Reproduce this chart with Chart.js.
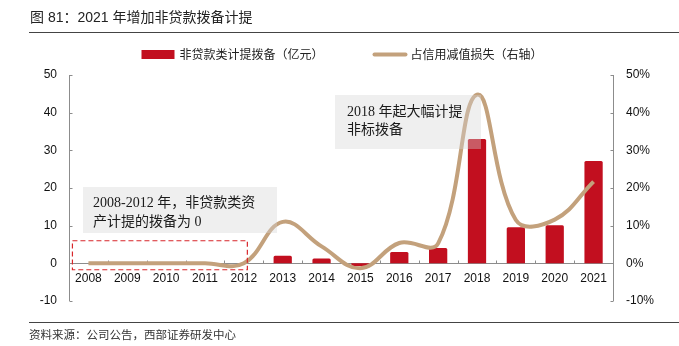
<!DOCTYPE html>
<html>
<head>
<meta charset="utf-8">
<script src="https://cdn.jsdelivr.net/npm/chart.js@4.4.1/dist/chart.umd.min.js"></script>
<style>
  body { margin: 0; background: #fff; }
  #wrap { position: relative; width: 679px; height: 346px; overflow: hidden; }
  #chart { position: absolute; left: 0; top: 0; }
  .title { position: absolute; left: 30px; top: 9px; font: 14px "Liberation Sans", "Noto Sans CJK SC", sans-serif; color: #222; white-space: nowrap; line-height: 16px; }
  .rule { position: absolute; left: 29px; width: 650px; height: 1px; background: #444; }
  .source { position: absolute; left: 29px; top: 327px; font: 11.5px "Noto Sans CJK SC", sans-serif; color: #333; white-space: nowrap; line-height: 14px; }
</style>
</head>
<body>
<div id="wrap">
  <canvas id="chart" width="679" height="346"></canvas>
  <div class="title">图 81：2021 年增加非贷款拨备计提</div>
  <div class="rule" style="top:32px"></div>
  <div class="rule" style="top:322px"></div>
  <div class="source">资料来源：公司公告，西部证券研发中心</div>
</div>
<script>
// years on the x axis
const years = ['2008', '2009', '2010', '2011', '2012', '2013', '2014', '2015', '2016', '2017', '2018', '2019', '2020', '2021'];
// non-loan provisions, 100m yuan (left axis)
const provisions = [0, 0, 0.2, 0.3, 0, 2.0, 1.3, -0.7, 3.0, 4.1, 33.0, 9.6, 10.1, 27.2];
// share of credit impairment losses, % (right axis)
const impairShare = [0, 0, 0, 0, 0, 11.0, 4.5, -1.3, 5.4, 5.3, 44.8, 11.5, 11.6, 21.7];
const leftTicks = [-10, 0, 10, 20, 30, 40, 50];
const rightTicks = [-10, 0, 10, 20, 30, 40, 50];

const barLabel = '非贷款类计提拨备（亿元）';
const lineLabel = '占信用减值损失（右轴）';

const RED = '#c20f1f';
const TAN = '#c3a17c';
const AXIS = '#8c8c8c';

// axis lines with short inward ticks
const axesPlugin = {
  id: 'axesPlugin',
  beforeDatasetsDraw(chart) {
    const ctx = chart.ctx;
    const { x, y, y1 } = chart.scales;
    const area = chart.chartArea;
    ctx.save();
    ctx.strokeStyle = AXIS;
    ctx.lineWidth = 1;
    ctx.beginPath();
    // left axis
    const lx = Math.round(area.left) + 0.5;
    ctx.moveTo(lx, y.getPixelForValue(50));
    ctx.lineTo(lx, y.getPixelForValue(-10));
    leftTicks.forEach(v => {
      const py = Math.round(y.getPixelForValue(v)) + 0.5;
      ctx.moveTo(lx, py);
      ctx.lineTo(lx + 3, py);
    });
    // right axis
    const rx = Math.round(area.right) + 0.5;
    ctx.moveTo(rx, y1.getPixelForValue(50));
    ctx.lineTo(rx, y1.getPixelForValue(-10));
    rightTicks.forEach(v => {
      const py = Math.round(y1.getPixelForValue(v)) + 0.5;
      ctx.moveTo(rx, py);
      ctx.lineTo(rx - 3, py);
    });
    // zero line with ticks between the years
    const zy = Math.round(y.getPixelForValue(0)) + 0.5;
    ctx.moveTo(area.left, zy);
    ctx.lineTo(area.right, zy);
    for (let i = 1; i < years.length; i++) {
      const px = Math.round((x.getPixelForValue(i - 1) + x.getPixelForValue(i)) / 2) + 0.5;
      ctx.moveTo(px, zy);
      ctx.lineTo(px, zy - 3);
    }
    ctx.stroke();
    ctx.restore();
  }
};

// the two grey note boxes and the dashed frame
const notesPlugin = {
  id: 'notesPlugin',
  afterDatasetsDraw(chart) {
    const ctx = chart.ctx;
    const { x, y } = chart.scales;
    ctx.save();

    // dashed frame around 2008-2012
    const fx0 = x.getPixelForValue(0) - 16;
    const fx1 = x.getPixelForValue(4) + 3.5;
    const fy0 = y.getPixelForValue(6);
    const fy1 = y.getPixelForValue(-1.7);
    ctx.strokeStyle = '#d8262b';
    ctx.lineWidth = 1.2;
    ctx.setLineDash([5, 3]);
    ctx.strokeRect(fx0, fy0, fx1 - fx0, fy1 - fy0);
    ctx.setLineDash([]);

    ctx.fillStyle = 'rgba(214, 214, 214, 0.38)';
    ctx.fillRect(83, 187, 194, 46);
    ctx.fillRect(335, 95, 146, 54);

    ctx.fillStyle = '#1a1a1a';
    ctx.font = '14px "Liberation Serif", "Noto Sans CJK SC", serif';
    ctx.textBaseline = 'middle';
    ctx.textAlign = 'left';
    ctx.fillText('2008-2012 年，非贷款类资', 93, 203);
    ctx.fillText('产计提的拨备为 0', 93, 222);
    ctx.fillText('2018 年起大幅计提', 347, 112);
    ctx.fillText('非标拨备', 347, 130);
    ctx.restore();
  }
};

// legend row above the plot
const legendPlugin = {
  id: 'legendPlugin',
  afterDraw(chart) {
    const ctx = chart.ctx;
    ctx.save();
    ctx.font = '12px "Noto Sans CJK SC", sans-serif';
    ctx.textBaseline = 'middle';
    ctx.fillStyle = '#222';
    const w1 = ctx.measureText(barLabel).width;
    const w2 = ctx.measureText(lineLabel).width;
    const total = 33 + 5 + w1 + 50 + 33 + 4 + w2;
    let sx = 342 - total / 2;
    const my = 54.5;
    ctx.fillStyle = chart.data.datasets[1].backgroundColor;
    ctx.fillRect(sx, my - 4.5, 33, 9);
    ctx.fillStyle = '#222';
    ctx.fillText(barLabel, sx + 38, my);
    sx += 33 + 5 + w1 + 50;
    ctx.strokeStyle = chart.data.datasets[0].borderColor;
    ctx.lineWidth = 4;
    ctx.lineCap = 'round';
    ctx.beginPath();
    ctx.moveTo(sx + 1, my);
    ctx.lineTo(sx + 32, my);
    ctx.stroke();
    ctx.fillText(lineLabel, sx + 37, my);
    ctx.restore();
  }
};

const ctx = document.getElementById('chart').getContext('2d');
new Chart(ctx, {
  type: 'bar',
  data: {
    labels: years,
    datasets: [
      {
        type: 'line',
        label: lineLabel,
        data: impairShare,
        yAxisID: 'y1',
        borderColor: TAN,
        borderWidth: 4,
        tension: 0.4,
        pointRadius: 0,
        fill: false,
        order: 0
      },
      {
        label: barLabel,
        data: provisions,
        yAxisID: 'y',
        backgroundColor: RED,
        borderRadius: 1.5,
        barPercentage: 0.47,
        categoryPercentage: 1,
        order: 1
      }
    ]
  },
  options: {
    responsive: false,
    animation: false,
    layout: { padding: { top: 75, bottom: 45, left: 0, right: 0 } },
    plugins: {
      legend: { display: false },
      tooltip: { enabled: false }
    },
    scales: {
      x: {
        position: { y: 0 },
        offset: true,
        grid: { display: false, drawTicks: false },
        border: { display: false },
        ticks: {
          color: '#111',
          font: { family: 'Liberation Sans', size: 12 },
          padding: 8,
          maxRotation: 0,
          autoSkip: false
        }
      },
      y: {
        position: 'left',
        min: -10,
        max: 50,
        grid: { display: false, drawTicks: false },
        border: { display: false },
        ticks: {
          stepSize: 10,
          color: '#111',
          font: { family: 'Liberation Sans', size: 12 },
          padding: 12
        },
        afterFit(scale) { scale.width = 69; }
      },
      y1: {
        position: 'right',
        min: -10,
        max: 50,
        grid: { display: false, drawTicks: false },
        border: { display: false },
        ticks: {
          stepSize: 10,
          color: '#111',
          font: { family: 'Liberation Sans', size: 12 },
          padding: 13,
          callback: v => v + '%'
        },
        afterFit(scale) { scale.width = 66; }
      }
    }
  },
  plugins: [axesPlugin, notesPlugin, legendPlugin]
});
</script>
</body>
</html>
